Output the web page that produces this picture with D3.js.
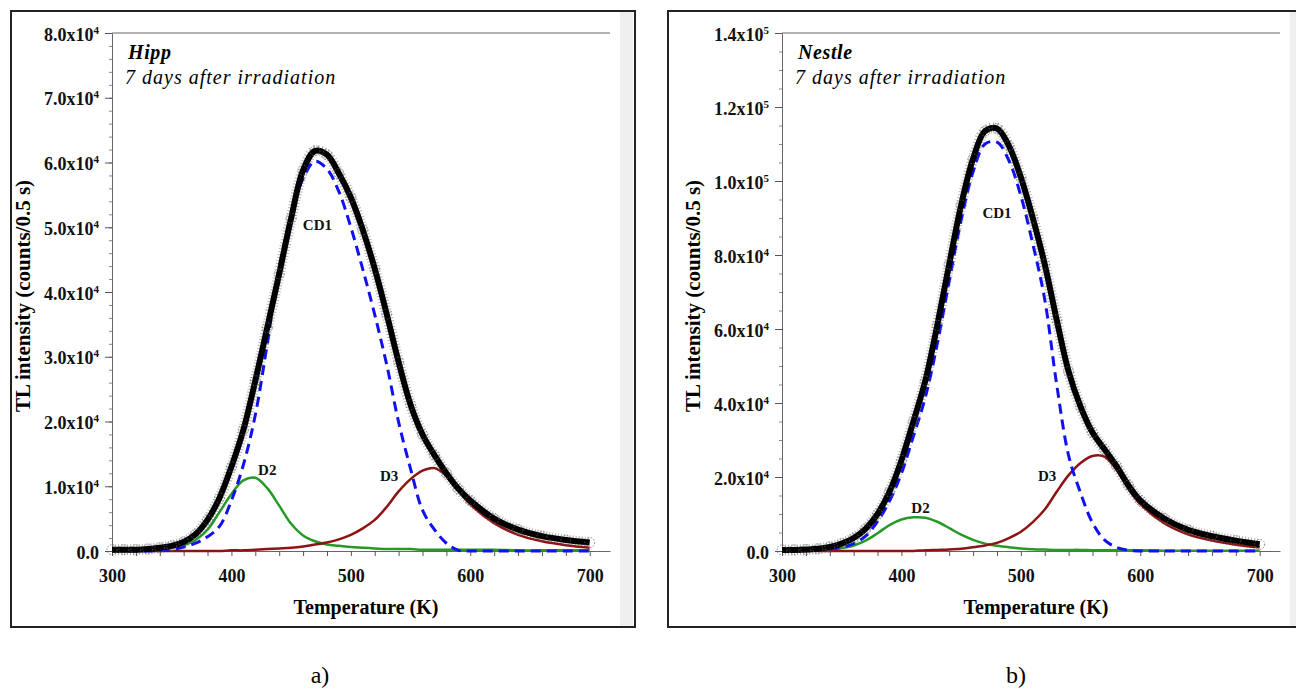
<!DOCTYPE html>
<html>
<head>
<meta charset="utf-8">
<script src="https://cdn.jsdelivr.net/npm/d3@7"></script>
<style>
  body { margin: 0; background: #fff; }
  svg { display: block; font-family: "Liberation Serif", "Times New Roman", serif; }
</style>
</head>
<body>
<svg id="fig" width="1296" height="691"></svg>
<script>
// temperature grid (K), shared by every curve
const temps = [300,310,320,330,340,350,360,370,380,390,400,410,420,430,440,450,460,470,480,490,
               500,510,520,530,540,550,560,570,580,590,600,620,640,660,680,700];

// Hipp, TL intensity (counts / 0.5 s)
const hippTotal = [200,200,200,300,500,800,1400,2600,4800,8200,13000,18700,26300,34500,42800,51400,58800,61800,61200,58300,
                   54600,49600,43600,36600,29200,22600,18000,14800,12000,9600,7800,5000,3300,2300,1700,1300];
const hippCD1   = [0,0,0,0,100,200,600,1200,2200,3800,7800,13300,21000,32000,43800,51800,57500,60200,59000,55500,
                   50000,43500,36500,28800,19900,12700,6300,3300,1200,100,0,0,0,0,0,0];
const hippD2    = [0,0,0,100,200,500,900,1700,3300,6000,8800,10900,11300,9700,7000,4200,2400,1500,1000,800,
                   600,500,400,300,300,300,200,200,200,200,200,200,100,100,100,100];
const hippD3    = [0,0,0,0,0,0,0,0,0,0,100,100,200,300,400,500,700,1000,1300,1800,
                   2500,3500,4800,6800,9200,11100,12400,12800,11600,9300,7200,4300,2500,1500,900,500];

// Nestle
const nestleTotal = [300,300,400,600,1100,2000,3500,6000,10000,16000,24500,35000,46000,61000,77500,93500,106000,113500,114200,109500,
                     101000,90000,77500,62500,48500,39000,32000,27500,23000,17800,13700,8800,5700,4000,2800,1800];
const nestleCD1   = [0,0,100,200,500,1000,2000,4000,8000,13500,21000,31000,41500,56000,73000,89500,102500,110000,110500,105500,
                     96000,83000,68000,45000,25800,15700,7600,3000,1000,200,0,0,0,0,0,0];
const nestleD2    = [0,0,100,200,400,800,1500,2800,4800,7000,8500,9100,9000,7900,6200,4400,3000,2000,1400,1000,
                     700,500,400,300,300,300,200,200,200,200,200,100,100,100,100,100];
const nestleD3    = [0,0,0,0,0,0,0,0,0,0,0,0,200,300,400,600,1000,1500,2200,3500,
                     5200,7800,11200,16000,20500,23800,25700,25500,22000,16800,12700,7500,4500,2800,1700,1000];

// axis ticks
const xMajor = [300,400,500,600,700];
const xMinor = d3.range(300, 701, 20);
const hippYMajor = [0,10000,20000,30000,40000,50000,60000,70000,80000];
const hippYMinor = d3.range(0, 80001, 2000);
const nestleYMajor = [0,20000,40000,60000,80000,100000,120000,140000];
const nestleYMinor = d3.range(0, 140001, 5000);

const svg = d3.select('#fig');
const SERIF = '"Liberation Serif", "Times New Roman", serif';

function sciLabel(sel, v) {
  sel.text(null);
  if (v === 0) { sel.text('0.0'); return; }
  const e = Math.floor(Math.log10(v) + 1e-9);
  const m = (v / Math.pow(10, e)).toFixed(1);
  sel.append('tspan').text(m + 'x10');
  sel.append('tspan').attr('dy', -7).attr('font-size', 11).text(e);
}

function drawPanel(cfg) {
  const g = svg.append('g').attr('font-family', SERIF);

  // outer frame + grey strip at the right edge
  g.append('rect')
    .attr('x', cfg.frame[0]).attr('y', cfg.frame[1])
    .attr('width', cfg.frame[2]).attr('height', cfg.frame[3])
    .attr('fill', '#fff').attr('stroke', '#222').attr('stroke-width', 2);
  g.append('rect')
    .attr('x', cfg.strip).attr('y', cfg.frame[1] + 1)
    .attr('width', 13).attr('height', cfg.frame[3] - 2)
    .attr('fill', '#efefef');

  const x = d3.scaleLinear().domain([300, 717]).range([cfg.left, cfg.left + 498]);
  const y = d3.scaleLinear().domain([0, cfg.yMax]).range([551, 33]);

  // x axis
  const xAxis = g.append('g').attr('transform', `translate(0,${y(0)})`)
    .call(d3.axisBottom(x).tickValues(xMinor).tickSize(5).tickSizeOuter(0)
      .tickFormat(d => xMajor.includes(d) ? d : ''));
  xAxis.select('.domain').attr('stroke', '#666');
  xAxis.selectAll('.tick line').attr('stroke', '#555');
  xAxis.selectAll('.tick text')
    .attr('y', 31).attr('dy', 0)
    .attr('font-family', SERIF).attr('font-size', 18).attr('font-weight', 'bold').attr('fill', '#111');

  // y axis: minor then major
  const yMinorAx = g.append('g').attr('transform', `translate(${x(300)},0)`)
    .call(d3.axisLeft(y).tickValues(cfg.yMinor).tickSize(3).tickSizeOuter(0).tickFormat(''));
  yMinorAx.select('.domain').attr('stroke', '#666');
  yMinorAx.selectAll('.tick line').attr('stroke', '#888');

  const yMajorAx = g.append('g').attr('transform', `translate(${x(300)},0)`)
    .call(d3.axisLeft(y).tickValues(cfg.yMajor).tickSize(7).tickSizeOuter(0));
  yMajorAx.select('.domain').remove();
  yMajorAx.selectAll('.tick line').attr('stroke', '#555');
  yMajorAx.selectAll('.tick text')
    .attr('x', -13).attr('dy', 7)
    .attr('font-family', SERIF).attr('font-size', 18).attr('font-weight', 'bold').attr('fill', '#111')
    .each(function(d) { sciLabel(d3.select(this), d); });

  // top border line of the plot
  g.append('line')
    .attr('x1', x(300)).attr('x2', x(717))
    .attr('y1', y(cfg.yMax)).attr('y2', y(cfg.yMax))
    .attr('stroke', '#666');

  const line = d3.line()
    .x((d, i) => x(temps[i]))
    .y(d => y(Math.max(0, d)))
    .curve(d3.curveCatmullRom.alpha(0.5));

  // measured points halo
  g.append('path').datum(cfg.total)
    .attr('d', line).attr('fill', 'none')
    .attr('stroke', '#666').attr('stroke-width', 11)
    .attr('stroke-dasharray', '1,2').attr('opacity', 0.5);

  // components
  g.append('path').datum(cfg.d2).attr('d', line).attr('fill', 'none')
    .attr('stroke', '#269a26').attr('stroke-width', 2.5);
  g.append('path').datum(cfg.d3).attr('d', line).attr('fill', 'none')
    .attr('stroke', '#8c1414').attr('stroke-width', 2.5);
  g.append('path').datum(cfg.cd1).attr('d', line).attr('fill', 'none')
    .attr('stroke', '#1010f0').attr('stroke-width', 3).attr('stroke-dasharray', '10,6');

  // fitted total
  g.append('path').datum(cfg.total).attr('d', line).attr('fill', 'none')
    .attr('stroke', '#000').attr('stroke-width', 6).attr('stroke-linejoin', 'round');

  // measured points
  g.selectAll('circle.pt').data(cfg.total).join('circle')
    .attr('class', 'pt')
    .attr('cx', (d, i) => x(temps[i]))
    .attr('cy', d => y(d))
    .attr('r', 5)
    .attr('fill', 'none').attr('stroke', '#666').attr('stroke-width', 0.8)
    .attr('stroke-dasharray', '1.5,1.5');

  // peak labels
  g.selectAll('text.peak').data(cfg.peaks).join('text')
    .attr('class', 'peak')
    .attr('x', d => x(d.t)).attr('y', d => y(d.v))
    .attr('text-anchor', 'middle')
    .attr('font-size', 15).attr('font-weight', 'bold').attr('fill', '#111')
    .text(d => d.label);

  // sample name and note
  g.append('text').attr('x', x(300) + 16).attr('y', 59)
    .attr('font-size', 20).attr('font-weight', 'bold').attr('font-style', 'italic')
    .attr('letter-spacing', 0.6)
    .text(cfg.name);
  g.append('text').attr('x', x(300) + 13).attr('y', 84)
    .attr('font-size', 20).attr('font-style', 'italic')
    .attr('letter-spacing', 1)
    .text('7 days after irradiation');

  // axis titles
  g.append('text')
    .attr('transform', `translate(${cfg.titleX},296) rotate(-90)`)
    .attr('text-anchor', 'middle')
    .attr('font-size', 21).attr('font-weight', 'bold')
    .text('TL intensity (counts/0.5 s)');
  g.append('text')
    .attr('x', x(300) + 254).attr('y', 614)
    .attr('text-anchor', 'middle')
    .attr('font-size', 20).attr('font-weight', 'bold')
    .text('Temperature (K)');

  // panel letter
  g.append('text')
    .attr('x', cfg.letterX).attr('y', 683)
    .attr('text-anchor', 'middle')
    .attr('font-size', 24)
    .text(cfg.letter);
}

drawPanel({
  frame: [11, 11, 624, 616], strip: 620, left: 112, titleX: 30,
  yMax: 80000, yMajor: hippYMajor, yMinor: hippYMinor,
  total: hippTotal, cd1: hippCD1, d2: hippD2, d3: hippD3,
  peaks: [{label: 'CD1', t: 472, v: 49600}, {label: 'D2', t: 430, v: 11700}, {label: 'D3', t: 532, v: 10800}],
  name: 'Hipp', letter: 'a)', letterX: 320
});

drawPanel({
  frame: [668, 11, 660, 616], strip: 1290, left: 782, titleX: 700,
  yMax: 140000, yMajor: nestleYMajor, yMinor: nestleYMinor,
  total: nestleTotal, cd1: nestleCD1, d2: nestleD2, d3: nestleD3,
  peaks: [{label: 'CD1', t: 480, v: 90000}, {label: 'D2', t: 416, v: 10300}, {label: 'D3', t: 522, v: 18900}],
  name: 'Nestle', letter: 'b)', letterX: 1016
});
</script>
</body>
</html>
